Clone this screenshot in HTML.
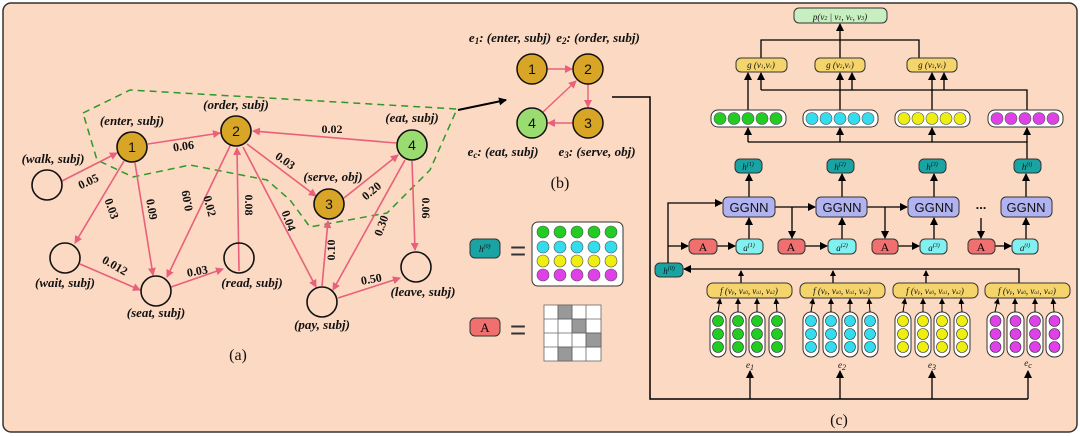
<!DOCTYPE html>
<html><head><meta charset="utf-8"><style>
html,body{margin:0;padding:0;background:#fff}
svg{display:block}
.lb{font-family:"Liberation Serif",serif;font-style:italic;font-weight:bold;font-size:13px;fill:#111}
.w{font-family:"Liberation Serif",serif;font-weight:bold;font-size:12px;fill:#111}
.n{font-family:"Liberation Sans",sans-serif;font-size:14px;fill:#111}
.cap{font-family:"Liberation Serif",serif;font-size:16px;fill:#111}
.it{font-family:"Liberation Serif",serif;font-style:italic;font-size:9px;fill:#111}
.gg{font-family:"Liberation Sans",sans-serif;font-size:13px;fill:#111}
</style></head><body>
<svg width="1080" height="436" viewBox="0 0 1080 436" xmlns="http://www.w3.org/2000/svg">
<defs>
<marker id="pk" markerWidth="8" markerHeight="8" refX="7" refY="4" orient="auto" markerUnits="userSpaceOnUse"><path d="M0,0 L8,4 L0,8 z" fill="#e8607a"/></marker>
<marker id="bk" markerWidth="8" markerHeight="8" refX="7" refY="4" orient="auto" markerUnits="userSpaceOnUse"><path d="M0,0 L8,4 L0,8 z" fill="#000"/></marker>
<marker id="bs" markerWidth="6" markerHeight="6" refX="5" refY="3" orient="auto" markerUnits="userSpaceOnUse"><path d="M0,0 L6,3 L0,6 z" fill="#000"/></marker>
</defs>
<rect x="3" y="3" width="1074" height="429" rx="8" fill="#fcd9c2" stroke="#333" stroke-width="1.5"/>

<path d="M83,113 L130,90 L457,109 L430,170 L387,213 L310,227 L290,200 L267,180 L190,165 L133,177 L97,160 Z" fill="none" stroke="#2a9a2a" stroke-width="1.5" stroke-dasharray="7,5"/>

<g stroke="#e8607a" stroke-width="1.6" fill="none" marker-end="url(#pk)">
<line x1="62" y1="181" x2="117" y2="153"/>
<line x1="148" y1="144" x2="220" y2="133"/>
<line x1="396" y1="143" x2="253" y2="131"/>
<line x1="247" y1="144" x2="316" y2="196"/>
<line x1="344" y1="198" x2="398" y2="155"/>
<line x1="124" y1="161" x2="75" y2="243"/>
<line x1="135" y1="163" x2="153" y2="275"/>
<line x1="239" y1="271" x2="237" y2="148"/>
<line x1="243" y1="147" x2="316" y2="287"/>
<line x1="322" y1="286" x2="328" y2="221"/>
<line x1="405" y1="160" x2="333" y2="290"/>
<line x1="412" y1="161" x2="415" y2="250"/>
<line x1="80" y1="264" x2="140" y2="290"/>
<line x1="171" y1="287" x2="223" y2="269"/>
<line x1="338" y1="298" x2="400" y2="278"/>
<line x1="230" y1="146" x2="167" y2="277" marker-start="url(#pk)"/>
</g>
<g stroke="#111" stroke-width="1.6">
<circle cx="47" cy="185" r="15" fill="none"/>
<circle cx="132" cy="147" r="15" fill="#d8a526"/>
<circle cx="236" cy="131" r="15" fill="#d8a526"/>
<circle cx="412" cy="145" r="15" fill="#9bdc70"/>
<circle cx="329" cy="204" r="15" fill="#d8a526"/>
<circle cx="65" cy="258" r="15" fill="none"/>
<circle cx="156" cy="291" r="15" fill="none"/>
<circle cx="239" cy="258" r="15" fill="none"/>
<circle cx="322" cy="302" r="15" fill="none"/>
<circle cx="416" cy="267" r="15" fill="none"/>
</g>
<g class="n" text-anchor="middle">
<text x="132" y="152">1</text><text x="236" y="136">2</text><text x="412" y="150">4</text><text x="329" y="209">3</text>
</g>
<g class="lb" text-anchor="middle">
<text x="53" y="163">(walk, subj)</text>
<text x="132" y="125">(enter, subj)</text>
<text x="236" y="109">(order, subj)</text>
<text x="412" y="122">(eat, subj)</text>
<text x="333" y="181">(serve, obj)</text>
<text x="65" y="287">(wait, subj)</text>
<text x="156" y="317">(seat, subj)</text>
<text x="252" y="287">(read, subj)</text>
<text x="322" y="329">(pay, subj)</text>
<text x="423" y="296">(leave, subj)</text>
</g>
<g class="w" text-anchor="middle">
<text transform="translate(90,185) rotate(-25)">0.05</text>
<text transform="translate(184,150) rotate(-8)">0.06</text>
<text x="332" y="133">0.02</text>
<text transform="translate(283,164) rotate(35)">0.03</text>
<text transform="translate(374,194) rotate(-40)">0.20</text>
<text transform="translate(108,210) rotate(70)">0.03</text>
<text transform="translate(148,210) rotate(80)">0.09</text>
<text transform="translate(191,200) rotate(-100)">0.09</text>
<text transform="translate(206,207) rotate(75)">0.02</text>
<text transform="translate(245,205) rotate(90)">0.08</text>
<text transform="translate(285,222) rotate(70)">0.04</text>
<text transform="translate(335,250) rotate(-90)">0.10</text>
<text transform="translate(385,227) rotate(-70)">0.30</text>
<text transform="translate(422,208) rotate(90)">0.06</text>
<text transform="translate(113,269) rotate(30)">0.012</text>
<text transform="translate(198,275) rotate(-10)">0.03</text>
<text transform="translate(372,283) rotate(-10)">0.50</text>
</g>
<text class="cap" x="238" y="360" text-anchor="middle">(a)</text>

<line x1="458" y1="110" x2="506" y2="100" stroke="#000" stroke-width="2" marker-end="url(#bk)"/>

<g stroke="#e8607a" stroke-width="1.4" marker-end="url(#pk)">
<line x1="547" y1="69" x2="572" y2="69"/>
<line x1="588" y1="84" x2="588" y2="107"/>
<line x1="573" y1="123" x2="548" y2="123"/>
<line x1="543" y1="112" x2="576" y2="81"/>
</g>
<g stroke="#111" stroke-width="1.5">
<circle cx="532" cy="69" r="15" fill="#d8a526"/><circle cx="588" cy="69" r="15" fill="#d8a526"/>
<circle cx="532" cy="123" r="15" fill="#9bdc70"/><circle cx="588" cy="123" r="15" fill="#d8a526"/>
</g>
<g class="n" text-anchor="middle"><text x="532" y="74">1</text><text x="588" y="74">2</text><text x="532" y="128">4</text><text x="588" y="128">3</text></g>
<g class="lb" text-anchor="middle">
<text x="510" y="42">e<tspan font-size="9" dy="2">1</tspan><tspan dy="-2">: (enter, subj)</tspan></text>
<text x="598" y="42">e<tspan font-size="9" dy="2">2</tspan><tspan dy="-2">: (order, subj)</tspan></text>
<text x="503" y="156">e<tspan font-size="9" dy="2">c</tspan><tspan dy="-2">: (eat, subj)</tspan></text>
<text x="597" y="156">e<tspan font-size="9" dy="2">3</tspan><tspan dy="-2">: (serve, obj)</tspan></text>
</g>
<text class="cap" x="560" y="188" text-anchor="middle">(b)</text>
<polyline points="612,97 650,97 650,399 1028,399" fill="none" stroke="#000" stroke-width="1.5"/>

<rect x="470" y="239" width="30" height="19" rx="5" fill="#1aa3a3" stroke="#333"/>
<text class="it" x="479" y="252">h<tspan font-size="6" dy="-4">(0)</tspan></text>
<text x="518" y="260" font-size="28" text-anchor="middle" fill="#333" font-family="Liberation Sans">=</text>
<rect x="532" y="222" width="91" height="64" rx="6" fill="#fff" stroke="#333"/>
<g stroke="#555" stroke-width="0.6">
<g fill="#22cc22"><circle cx="543" cy="232" r="6"/><circle cx="560" cy="232" r="6"/><circle cx="577" cy="232" r="6"/><circle cx="594" cy="232" r="6"/><circle cx="611" cy="232" r="6"/></g>
<g fill="#33ddee"><circle cx="543" cy="247" r="6"/><circle cx="560" cy="247" r="6"/><circle cx="577" cy="247" r="6"/><circle cx="594" cy="247" r="6"/><circle cx="611" cy="247" r="6"/></g>
<g fill="#eeee11"><circle cx="543" cy="261" r="6"/><circle cx="560" cy="261" r="6"/><circle cx="577" cy="261" r="6"/><circle cx="594" cy="261" r="6"/><circle cx="611" cy="261" r="6"/></g>
<g fill="#e040e8"><circle cx="543" cy="275" r="6"/><circle cx="560" cy="275" r="6"/><circle cx="577" cy="275" r="6"/><circle cx="594" cy="275" r="6"/><circle cx="611" cy="275" r="6"/></g>
</g>
<rect x="470" y="318" width="30" height="18" rx="5" fill="#f07070" stroke="#333"/>
<text x="485" y="332" font-size="13" text-anchor="middle" font-family="Liberation Serif">A</text>
<text x="518" y="339" font-size="28" text-anchor="middle" fill="#333" font-family="Liberation Sans">=</text>
<g stroke="#666" stroke-width="0.8">
<rect x="544" y="305" width="57" height="56" fill="#fff"/>
<rect x="558" y="305" width="14" height="14" fill="#999"/>
<rect x="572" y="319" width="14" height="14" fill="#999"/>
<rect x="586" y="333" width="15" height="14" fill="#999"/>
<rect x="558" y="347" width="14" height="14" fill="#999"/>
<line x1="558" y1="305" x2="558" y2="361"/><line x1="572" y1="305" x2="572" y2="361"/><line x1="586" y1="305" x2="586" y2="361"/>
<line x1="544" y1="319" x2="601" y2="319"/><line x1="544" y1="333" x2="601" y2="333"/><line x1="544" y1="347" x2="601" y2="347"/>
</g>

<rect x="794" y="8" width="93" height="15" rx="5" fill="#c8efc0" stroke="#333"/>
<text class="it" x="840" y="20" text-anchor="middle" font-size="11">p(v<tspan font-size="6">2</tspan> | v<tspan font-size="6">1</tspan>, v<tspan font-size="6">c</tspan>, v<tspan font-size="6">3</tspan>)</text>
<g stroke="#000" stroke-width="1.3" fill="none">
<line x1="840" y1="58" x2="840" y2="24" marker-end="url(#bk)"/>
<polyline points="761,58 761,40 919,40 919,58"/>
<line x1="748" y1="110" x2="748" y2="73" marker-end="url(#bk)"/>
<line x1="840" y1="110" x2="840" y2="73" marker-end="url(#bk)"/>
<line x1="932" y1="110" x2="932" y2="73" marker-end="url(#bk)"/>
<polyline points="1027,110 1027,90 761,90"/>
<line x1="761" y1="90" x2="761" y2="73" marker-end="url(#bk)"/>
<line x1="852" y1="90" x2="852" y2="73" marker-end="url(#bk)"/>
<line x1="944" y1="90" x2="944" y2="73" marker-end="url(#bk)"/>
<polyline points="1027,159 1027,142 748,142"/>
<line x1="748" y1="142" x2="748" y2="128" marker-end="url(#bk)"/>
<line x1="840" y1="142" x2="840" y2="128" marker-end="url(#bk)"/>
<line x1="932" y1="142" x2="932" y2="128" marker-end="url(#bk)"/>
<line x1="1027" y1="142" x2="1027" y2="128" marker-end="url(#bk)"/>
</g>
<g stroke="#333" fill="#f5d56b">
<rect x="736" y="58" width="51" height="14" rx="5"/><rect x="815" y="58" width="50" height="14" rx="5"/><rect x="907" y="58" width="50" height="14" rx="5"/>
</g>
<g class="it" text-anchor="middle" font-size="8">
<text x="761" y="68">g (v<tspan font-size="5">1</tspan>,v<tspan font-size="5">c</tspan>)</text>
<text x="840" y="68">g (v<tspan font-size="5">2</tspan>,v<tspan font-size="5">c</tspan>)</text>
<text x="932" y="68">g (v<tspan font-size="5">3</tspan>,v<tspan font-size="5">c</tspan>)</text>
</g>
<g stroke="#333" fill="#fff">
<rect x="711" y="110" width="75" height="17" rx="7"/><rect x="803" y="110" width="75" height="17" rx="7"/>
<rect x="895" y="110" width="75" height="17" rx="7"/><rect x="988" y="110" width="75" height="17" rx="7"/>
</g>
<g stroke="#555" stroke-width="0.6">
<g fill="#22cc22"><circle cx="720" cy="118.5" r="6"/><circle cx="734" cy="118.5" r="6"/><circle cx="748" cy="118.5" r="6"/><circle cx="762" cy="118.5" r="6"/><circle cx="776" cy="118.5" r="6"/></g>
<g fill="#33ddee"><circle cx="812" cy="118.5" r="6"/><circle cx="826" cy="118.5" r="6"/><circle cx="840" cy="118.5" r="6"/><circle cx="854" cy="118.5" r="6"/><circle cx="868" cy="118.5" r="6"/></g>
<g fill="#eeee11"><circle cx="904" cy="118.5" r="6"/><circle cx="918" cy="118.5" r="6"/><circle cx="932" cy="118.5" r="6"/><circle cx="946" cy="118.5" r="6"/><circle cx="960" cy="118.5" r="6"/></g>
<g fill="#e040e8"><circle cx="997" cy="118.5" r="6"/><circle cx="1011" cy="118.5" r="6"/><circle cx="1025" cy="118.5" r="6"/><circle cx="1039" cy="118.5" r="6"/><circle cx="1053" cy="118.5" r="6"/></g>
</g>
<g stroke="#333" fill="#1aa3a3">
<rect x="735" y="159" width="27" height="14" rx="5"/><rect x="827" y="159" width="27" height="14" rx="5"/>
<rect x="919" y="159" width="27" height="14" rx="5"/><rect x="1014" y="159" width="27" height="14" rx="5"/>
<rect x="655" y="263" width="28" height="14" rx="5"/>
</g>
<g class="it" text-anchor="middle" font-size="10">
<text x="748" y="170">h<tspan font-size="6" dy="-4">(1)</tspan></text>
<text x="840" y="170">h<tspan font-size="6" dy="-4">(2)</tspan></text>
<text x="932" y="170">h<tspan font-size="6" dy="-4">(3)</tspan></text>
<text x="1027" y="170">h<tspan font-size="6" dy="-4">(t)</tspan></text>
<text x="669" y="274">h<tspan font-size="6" dy="-4">(0)</tspan></text>
</g>
<g stroke="#000" stroke-width="1.3" fill="none">
<line x1="749" y1="197" x2="749" y2="174" marker-end="url(#bk)"/>
<line x1="842" y1="197" x2="842" y2="174" marker-end="url(#bk)"/>
<line x1="934" y1="197" x2="934" y2="174" marker-end="url(#bk)"/>
<line x1="1026" y1="197" x2="1026" y2="174" marker-end="url(#bk)"/>
<line x1="775" y1="207" x2="815" y2="207" marker-end="url(#bk)"/>
<line x1="867" y1="207" x2="907" y2="207" marker-end="url(#bk)"/>
<line x1="792" y1="207" x2="792" y2="238" marker-end="url(#bk)"/>
<line x1="885" y1="207" x2="885" y2="238" marker-end="url(#bk)"/>
<line x1="981" y1="218" x2="981" y2="238" marker-end="url(#bk)"/>
<line x1="749" y1="239" x2="749" y2="218" marker-end="url(#bk)"/>
<line x1="842" y1="239" x2="842" y2="218" marker-end="url(#bk)"/>
<line x1="934" y1="239" x2="934" y2="218" marker-end="url(#bk)"/>
<line x1="1026" y1="239" x2="1026" y2="218" marker-end="url(#bk)"/>
<line x1="717" y1="246" x2="735" y2="246" marker-end="url(#bk)"/>
<line x1="805" y1="246" x2="827" y2="246" marker-end="url(#bk)"/>
<line x1="898" y1="246" x2="919" y2="246" marker-end="url(#bk)"/>
<line x1="995" y1="246" x2="1011" y2="246" marker-end="url(#bk)"/>
<polyline points="668,263 668,203 722,203" marker-end="url(#bk)"/>
<line x1="668" y1="246" x2="688" y2="246" marker-end="url(#bk)"/>
<polyline points="1019,283 1019,269 684,269" marker-end="url(#bk)"/>
<line x1="741" y1="283" x2="741" y2="271" marker-end="url(#bs)"/>
<line x1="833" y1="283" x2="833" y2="271" marker-end="url(#bs)"/>
<line x1="926" y1="283" x2="926" y2="271" marker-end="url(#bs)"/>
<line x1="750" y1="399" x2="750" y2="371" marker-end="url(#bk)"/>
<line x1="840" y1="399" x2="840" y2="371" marker-end="url(#bk)"/>
<line x1="932" y1="399" x2="932" y2="371" marker-end="url(#bk)"/>
<line x1="1028" y1="399" x2="1028" y2="371" marker-end="url(#bk)"/>
</g>
<g stroke="#333" fill="#b0b3ef">
<rect x="723" y="197" width="52" height="20" rx="5"/><rect x="816" y="197" width="51" height="20" rx="5"/>
<rect x="908" y="197" width="51" height="20" rx="5"/><rect x="1001" y="197" width="51" height="20" rx="5"/>
</g>
<g class="gg" text-anchor="middle">
<text x="749" y="212">GGNN</text><text x="842" y="212">GGNN</text><text x="934" y="212">GGNN</text><text x="1026" y="212">GGNN</text>
<text x="981" y="209" font-weight="bold">...</text>
</g>
<g stroke="#333">
<rect x="689" y="239" width="28" height="15" rx="5" fill="#f07070"/><rect x="778" y="239" width="27" height="15" rx="5" fill="#f07070"/>
<rect x="872" y="239" width="26" height="15" rx="5" fill="#f07070"/><rect x="968" y="239" width="27" height="15" rx="5" fill="#f07070"/>
<rect x="736" y="239" width="27" height="15" rx="5" fill="#80f0f0"/><rect x="828" y="239" width="28" height="15" rx="5" fill="#80f0f0"/>
<rect x="920" y="239" width="27" height="15" rx="5" fill="#80f0f0"/><rect x="1012" y="239" width="26" height="15" rx="5" fill="#80f0f0"/>
</g>
<g font-family="Liberation Serif" font-size="12" text-anchor="middle">
<text x="703" y="251">A</text><text x="791" y="251">A</text><text x="885" y="251">A</text><text x="981" y="251">A</text>
</g>
<g class="it" text-anchor="middle" font-size="11">
<text x="749" y="251">a<tspan font-size="6" dy="-4">(1)</tspan></text>
<text x="842" y="251">a<tspan font-size="6" dy="-4">(2)</tspan></text>
<text x="934" y="251">a<tspan font-size="6" dy="-4">(3)</tspan></text>
<text x="1025" y="251">a<tspan font-size="6" dy="-4">(t)</tspan></text>
</g>
<g stroke="#333" fill="#f5d56b">
<rect x="707" y="283" width="85" height="15" rx="6"/><rect x="800" y="283" width="85" height="15" rx="6"/>
<rect x="893" y="283" width="85" height="15" rx="6"/><rect x="985" y="283" width="85" height="15" rx="6"/>
</g>
<g class="it" text-anchor="middle" font-size="7.5">
<text x="749" y="294">f (v<tspan font-size="5">p</tspan>, v<tspan font-size="5">a0</tspan>, v<tspan font-size="5">a1</tspan>, v<tspan font-size="5">a2</tspan>)</text>
<text x="842" y="294">f (v<tspan font-size="5">p</tspan>, v<tspan font-size="5">a0</tspan>, v<tspan font-size="5">a1</tspan>, v<tspan font-size="5">a2</tspan>)</text>
<text x="935" y="294">f (v<tspan font-size="5">p</tspan>, v<tspan font-size="5">a0</tspan>, v<tspan font-size="5">a1</tspan>, v<tspan font-size="5">a2</tspan>)</text>
<text x="1027" y="294">f (v<tspan font-size="5">p</tspan>, v<tspan font-size="5">a0</tspan>, v<tspan font-size="5">a1</tspan>, v<tspan font-size="5">a2</tspan>)</text>
</g>
<g stroke="#333" stroke-width="1">
<g fill="#fff"><rect x="710" y="312" width="16" height="45" rx="8"/><rect x="730" y="312" width="16" height="45" rx="8"/><rect x="749" y="312" width="16" height="45" rx="8"/><rect x="769" y="312" width="16" height="45" rx="8"/></g>
<g fill="#22cc22" stroke-width="0.6"><circle cx="718" cy="321" r="5.5"/><circle cx="718" cy="334" r="5.5"/><circle cx="718" cy="347" r="5.5"/><circle cx="738" cy="321" r="5.5"/><circle cx="738" cy="334" r="5.5"/><circle cx="738" cy="347" r="5.5"/><circle cx="757" cy="321" r="5.5"/><circle cx="757" cy="334" r="5.5"/><circle cx="757" cy="347" r="5.5"/><circle cx="777" cy="321" r="5.5"/><circle cx="777" cy="334" r="5.5"/><circle cx="777" cy="347" r="5.5"/></g>
<g fill="#fff"><rect x="803" y="312" width="16" height="45" rx="8"/><rect x="823" y="312" width="16" height="45" rx="8"/><rect x="842" y="312" width="16" height="45" rx="8"/><rect x="862" y="312" width="16" height="45" rx="8"/></g>
<g fill="#33ddee" stroke-width="0.6"><circle cx="811" cy="321" r="5.5"/><circle cx="811" cy="334" r="5.5"/><circle cx="811" cy="347" r="5.5"/><circle cx="831" cy="321" r="5.5"/><circle cx="831" cy="334" r="5.5"/><circle cx="831" cy="347" r="5.5"/><circle cx="850" cy="321" r="5.5"/><circle cx="850" cy="334" r="5.5"/><circle cx="850" cy="347" r="5.5"/><circle cx="870" cy="321" r="5.5"/><circle cx="870" cy="334" r="5.5"/><circle cx="870" cy="347" r="5.5"/></g>
<g fill="#fff"><rect x="895" y="312" width="16" height="45" rx="8"/><rect x="915" y="312" width="16" height="45" rx="8"/><rect x="934" y="312" width="16" height="45" rx="8"/><rect x="954" y="312" width="16" height="45" rx="8"/></g>
<g fill="#eeee11" stroke-width="0.6"><circle cx="903" cy="321" r="5.5"/><circle cx="903" cy="334" r="5.5"/><circle cx="903" cy="347" r="5.5"/><circle cx="923" cy="321" r="5.5"/><circle cx="923" cy="334" r="5.5"/><circle cx="923" cy="347" r="5.5"/><circle cx="942" cy="321" r="5.5"/><circle cx="942" cy="334" r="5.5"/><circle cx="942" cy="347" r="5.5"/><circle cx="962" cy="321" r="5.5"/><circle cx="962" cy="334" r="5.5"/><circle cx="962" cy="347" r="5.5"/></g>
<g fill="#fff"><rect x="987" y="312" width="17" height="45" rx="8"/><rect x="1007" y="312" width="17" height="45" rx="8"/><rect x="1027" y="312" width="16" height="45" rx="8"/><rect x="1046" y="312" width="17" height="45" rx="8"/></g>
<g fill="#e040e8" stroke-width="0.6"><circle cx="995.5" cy="321" r="5.5"/><circle cx="995.5" cy="334" r="5.5"/><circle cx="995.5" cy="347" r="5.5"/><circle cx="1015.5" cy="321" r="5.5"/><circle cx="1015.5" cy="334" r="5.5"/><circle cx="1015.5" cy="347" r="5.5"/><circle cx="1035" cy="321" r="5.5"/><circle cx="1035" cy="334" r="5.5"/><circle cx="1035" cy="347" r="5.5"/><circle cx="1054.5" cy="321" r="5.5"/><circle cx="1054.5" cy="334" r="5.5"/><circle cx="1054.5" cy="347" r="5.5"/></g>
</g>
<g stroke="#000" stroke-width="1" marker-end="url(#bs)">
<line x1="718" y1="312" x2="720" y2="299"/><line x1="738" y1="312" x2="738" y2="299"/><line x1="757" y1="312" x2="757" y2="299"/><line x1="777" y1="312" x2="776" y2="299"/>
<line x1="811" y1="312" x2="813" y2="299"/><line x1="831" y1="312" x2="831" y2="299"/><line x1="850" y1="312" x2="850" y2="299"/><line x1="870" y1="312" x2="869" y2="299"/>
<line x1="903" y1="312" x2="905" y2="299"/><line x1="923" y1="312" x2="923" y2="299"/><line x1="942" y1="312" x2="942" y2="299"/><line x1="962" y1="312" x2="961" y2="299"/>
<line x1="995" y1="312" x2="998" y2="299"/><line x1="1015" y1="312" x2="1015" y2="299"/><line x1="1035" y1="312" x2="1035" y2="299"/><line x1="1054" y1="312" x2="1053" y2="299"/>
</g>
<g class="it" text-anchor="middle" font-size="13">
<text x="750" y="368">e<tspan font-size="8" dy="2">1</tspan></text>
<text x="842" y="368">e<tspan font-size="8" dy="2">2</tspan></text>
<text x="932" y="368">e<tspan font-size="8" dy="2">3</tspan></text>
<text x="1028" y="366">e<tspan font-size="8" dy="2">c</tspan></text>
</g>
<text class="cap" x="839" y="425" text-anchor="middle">(c)</text>
</svg>
</body></html>
